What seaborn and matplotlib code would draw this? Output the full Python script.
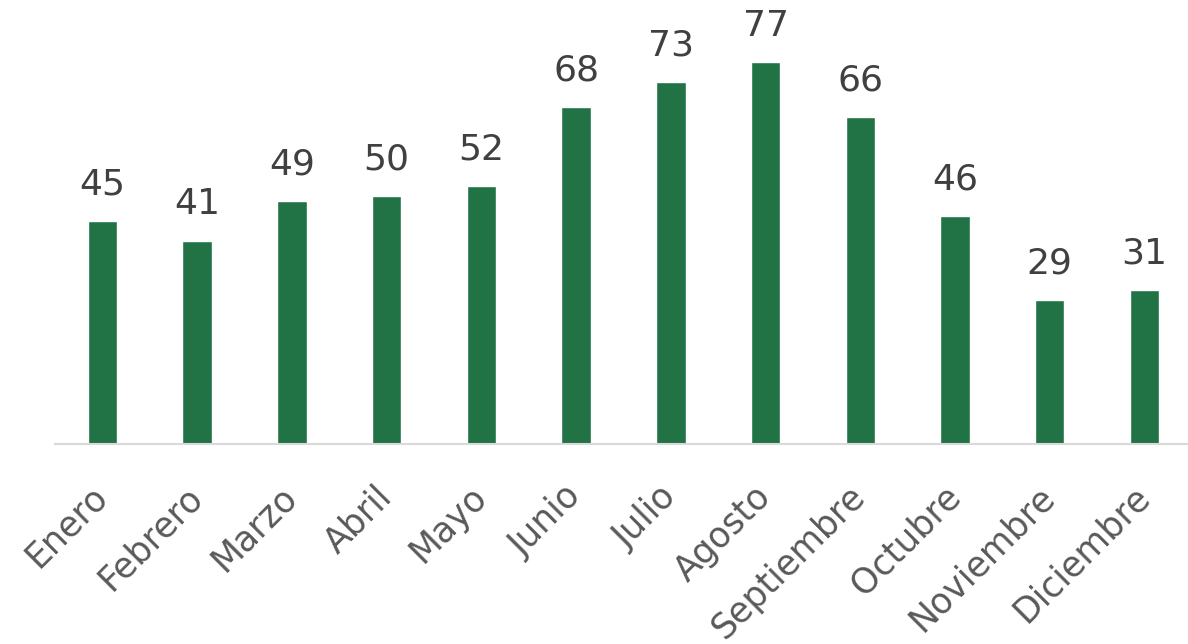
import pandas as pd
import matplotlib
matplotlib.use('Agg')
import matplotlib.pyplot as plt
import seaborn as sns

meses = ['Enero', 'Febrero', 'Marzo', 'Abril', 'Mayo', 'Junio', 'Julio',
         'Agosto', 'Septiembre', 'Octubre', 'Noviembre', 'Diciembre']
valores = [45, 41, 49, 50, 52, 68, 73, 77, 66, 46, 29, 31]

df = pd.DataFrame({'mes': meses, 'valor': valores})

sns.set_style('white')
plt.rcParams['font.family'] = ['DejaVu Sans']

fig = plt.figure(figsize=(11.88, 6.44), dpi=100)
ax = fig.add_axes([0.0463, 0.3106, 0.957, 0.6894])
sns.barplot(data=df, x='mes', y='valor', color='#217346', saturation=1,
            width=0.31, ax=ax)

# etiquetas de valor encima de cada barra
for p in ax.patches:
    ax.annotate('%d' % p.get_height(),
                xy=(p.get_x() + p.get_width() / 2, p.get_height()),
                xytext=(0, 14), textcoords='offset points',
                ha='center', va='bottom', fontsize=26, color='#404040')

ax.set_ylim(0, 89.5)
ax.set_xlim(-0.5, 11.5)
ax.set_xlabel('')
ax.set_ylabel('')
ax.set_yticks([])
for s in ['top', 'right', 'left']:
    ax.spines[s].set_visible(False)
ax.spines['bottom'].set_color('#d9d9d9')
ax.spines['bottom'].set_linewidth(1.5)
ax.tick_params(axis='x', length=0, pad=34)
plt.setp(ax.get_xticklabels(), rotation=45, ha='right', va='center',
         rotation_mode='anchor', fontsize=25, color='#595959')

fig.savefig('out.png', dpi=100, facecolor='white')
